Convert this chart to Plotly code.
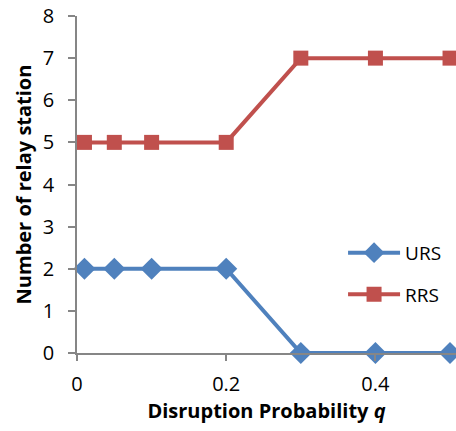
import plotly.graph_objects as go

# Disruption probability q and the relay station counts for each scheme
q_values = [0.01, 0.05, 0.1, 0.2, 0.3, 0.4, 0.5]
urs_counts = [2, 2, 2, 2, 0, 0, 0]
rrs_counts = [5, 5, 5, 5, 7, 7, 7]
x_ticks = [0, 0.2, 0.4]
x_tick_labels = ["0", "0.2", "0.4"]
y_ticks = [0, 1, 2, 3, 4, 5, 6, 7, 8]

BLUE = "#4F81BD"
RED = "#C0504D"
AXIS = "#868686"
FONT = "Open Sans, Noto Sans, sans-serif"

fig = go.Figure()
fig.add_trace(go.Scatter(
    x=q_values, y=urs_counts, name="URS", mode="lines+markers",
    line=dict(color=BLUE, width=4),
    marker=dict(symbol="diamond", size=17, color=BLUE),
    cliponaxis=False, legendgroup="a",
))
fig.add_trace(go.Scatter(
    x=q_values, y=rrs_counts, name="RRS", mode="lines+markers",
    line=dict(color=RED, width=4),
    marker=dict(symbol="square", size=15, color=RED),
    cliponaxis=False, legendgroup="b",
))

fig.update_layout(
    width=456, height=431,
    margin=dict(l=77, r=0, t=16, b=78),
    paper_bgcolor="white", plot_bgcolor="white",
    font=dict(family=FONT, size=20, color="black"),
    showlegend=True,
    legend=dict(
        x=0.702, y=0.235, xanchor="left", yanchor="middle",
        font=dict(size=19), traceorder="grouped", tracegroupgap=14,
        itemwidth=52, bgcolor="rgba(0,0,0,0)",
    ),
    xaxis=dict(
        range=[0, 0.508], tickvals=x_ticks, ticktext=x_tick_labels,
        tickfont=dict(size=20), ticklabelstandoff=6,
        showgrid=False, zeroline=False, showline=True,
        linecolor=AXIS, linewidth=1.5,
        ticks="outside", ticklen=6, tickcolor=AXIS, tickwidth=1.5,
        title=dict(
            text="<b>Disruption Probability <i>q</i></b>",
            font=dict(size=20), standoff=6,
        ),
    ),
    yaxis=dict(
        range=[0, 8], tickvals=y_ticks,
        tickfont=dict(size=20), ticklabelstandoff=10,
        showgrid=False, zeroline=False, showline=True,
        linecolor=AXIS, linewidth=1.5,
        ticks="outside", ticklen=7, tickcolor=AXIS, tickwidth=1.5,
        title=dict(
            text="<b>Number of relay station</b>",
            font=dict(size=20), standoff=6,
        ),
    ),
)

fig.write_html("out.html")
